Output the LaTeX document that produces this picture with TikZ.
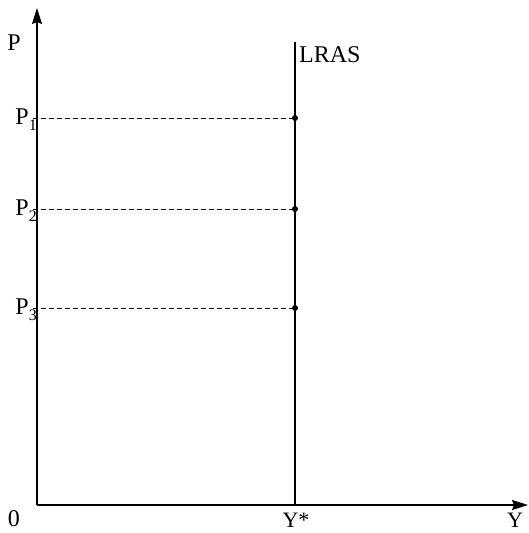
\documentclass[tikz,border=0pt]{standalone}
\usepackage{fontspec}
\setmainfont{Liberation Serif}
\usetikzlibrary{arrows.meta}
\newcommand{\mysub}[1]{{\fontsize{16}{16}\selectfont\raisebox{-5.5pt}{#1}}}
\begin{document}
\begin{tikzpicture}[x=1pt,y=1pt,
  axis/.style={line width=1.4pt,-{Stealth[length=16pt,width=10pt,inset=2pt]}},
  curve/.style={line width=1.4pt},
  guide/.style={line width=0.9pt,dash pattern=on 5pt off 3pt},
  lab/.style={font=\fontsize{24}{26}\selectfont,inner sep=1pt},
  xlab/.style={font=\fontsize{22}{24}\selectfont,inner sep=0pt},
  pt/.style={circle,fill,inner sep=0pt,minimum size=6pt}]
\useasboundingbox (0,0) rectangle (528,533);
\coordinate (O) at (37,28);
\coordinate (Ytop) at (37,525);
\coordinate (Xend) at (528,28);
\coordinate (Lb) at (295,28);
\coordinate (Lt) at (295,491);
\draw[axis] (O) -- (Ytop);
\draw[axis] (O) -- (Xend);
\draw[curve] (Lb) -- (Lt);
\node[lab,anchor=base west] (lras) at (298,470) {LRAS};
\node[lab,anchor=base] (p) at (14,482) {P};
\node[lab,anchor=base] (zero) at (14,6) {0};
\node[xlab,anchor=base] (ystar) at (296,5.5) {Y*};
\node[xlab,anchor=base] (y) at (515,5.5) {Y};
\foreach \n/\yy/\s in {1/415/1,2/324/2,3/225/3}{
  \coordinate (a\n) at (33,\yy);
  \node[pt] (d\n) at (295,\yy) {};
  \draw[guide] (a\n) -- (d\n.center);
  \node[lab,anchor=base east,inner sep=0pt] (p\n) at (37,\yy-7) {P\mysub{\s}};
}
\end{tikzpicture}
\end{document}
